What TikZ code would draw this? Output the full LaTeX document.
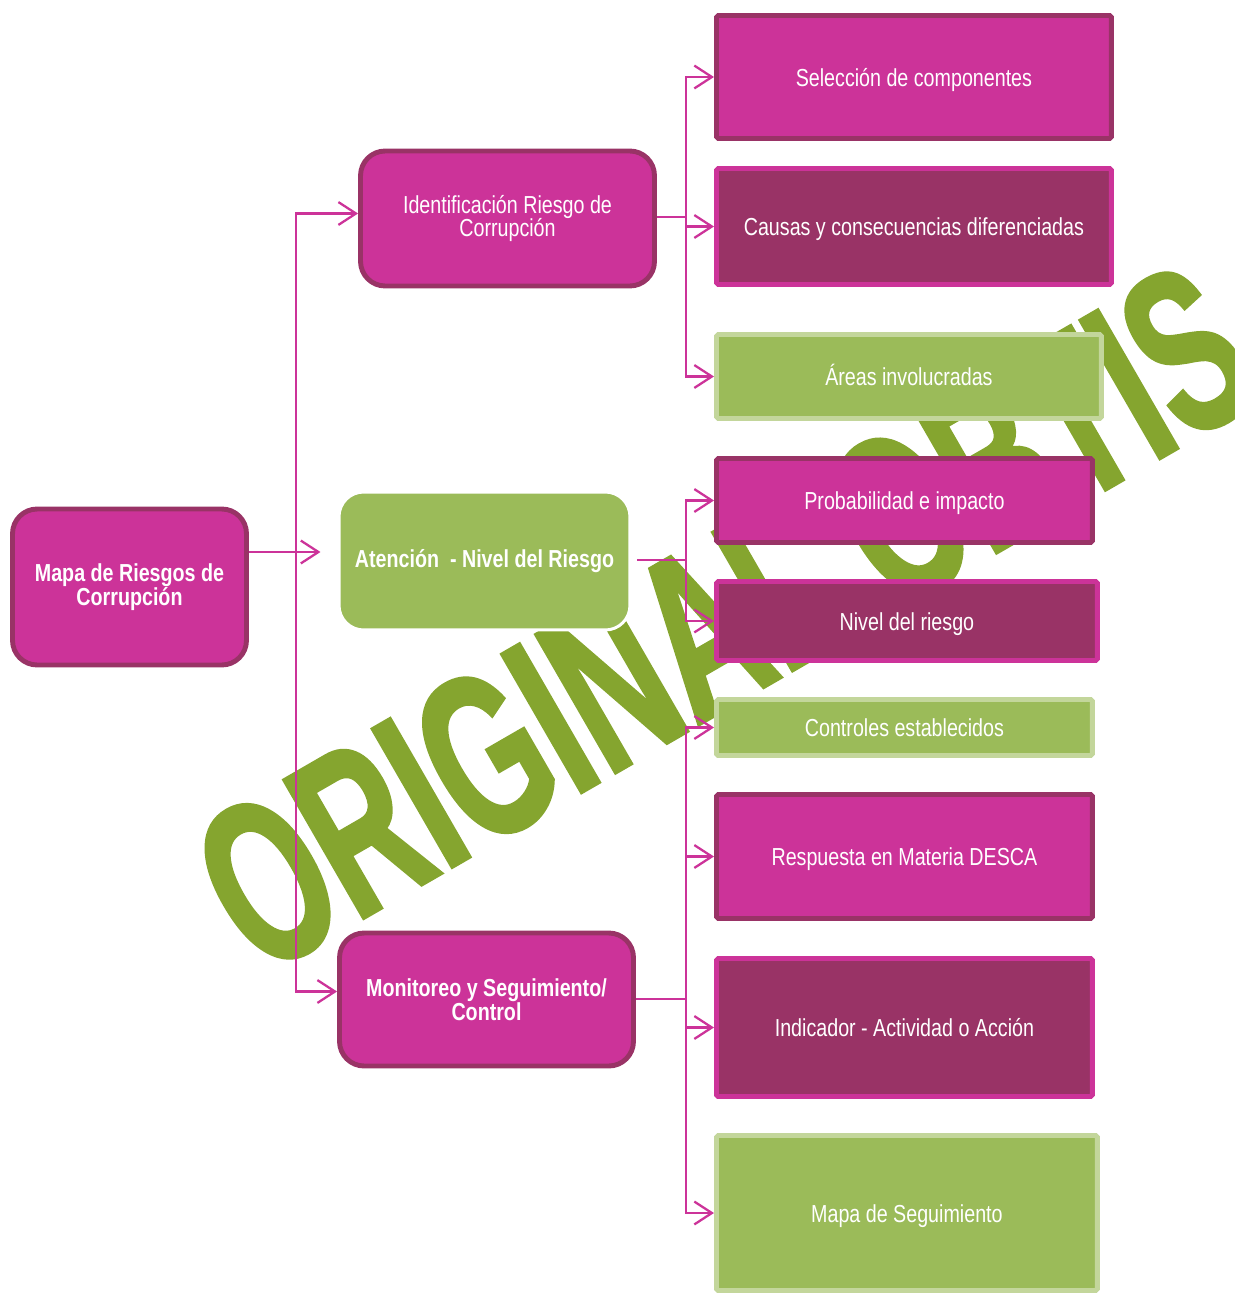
\documentclass[tikz,border=0pt]{standalone}
\usepackage{fontspec}
\setmainfont{Liberation Sans}[FakeStretch=0.8]
\newfontfamily\marcafont{Liberation Sans}[FakeStretch=0.61, FakeBold=1.5]
\usetikzlibrary{arrows.meta,calc}
\definecolor{rosa}{HTML}{CC3399}
\definecolor{vino}{HTML}{993366}
\definecolor{verde}{HTML}{9BBB59}
\definecolor{verdeclaro}{HTML}{C3D69B}
\definecolor{oliva}{HTML}{85A52F}

\begin{document}
\begin{tikzpicture}[x=0.02cm, y=-0.02cm,
  nivel/.style={rounded corners=14pt, line width=2.8pt, text=white, align=center,
    font=\fontsize{14}{13.5}\selectfont, inner sep=0pt},
  hoja/.style={rounded corners=1pt, line width=2.8pt, text=white, align=center,
    font=\fontsize{14}{13.5}\selectfont, inner sep=0pt, anchor=west,
    text height=11.5pt, text depth=1pt},
  fucsia/.style={fill=rosa, draw=vino},
  morado/.style={fill=vino, draw=rosa},
  pasto/.style={fill=verde, draw=verdeclaro},
  link/.style={draw=rosa, line width=1.3pt, -{Straight Barb[length=10pt,width=13pt]}}]
 \useasboundingbox (0,0) rectangle (1234,1294);
 \node[rotate=30, text=oliva, inner sep=0pt,
   font=\marcafont\bfseries\fontsize{132}{132}\selectfont] (marca) at (724,618) {ORIGINAL OBTIS};

 \node[nivel, fucsia, font=\bfseries\fontsize{14}{13.5}\selectfont,
   minimum width=4.68cm, minimum height=3.12cm] (mapa) at (129.5,587) {Mapa de Riesgos de\\Corrupción};
 \node[nivel, fucsia, minimum width=5.88cm, minimum height=2.7cm] (ident) at (507.5,218.5) {Identificación Riesgo de\\Corrupción};
 \node[nivel, fill=verde, draw=white, line width=1.7pt, font=\bfseries\fontsize{14}{13.5}\selectfont,
   minimum width=5.82cm, minimum height=2.76cm] (aten) at (484.5,561) {Atención~~- Nivel del Riesgo};
 \node[nivel, fucsia, font=\bfseries\fontsize{14}{13.5}\selectfont,
   minimum width=5.88cm, minimum height=2.66cm] (moni) at (486.5,999.5) {Monitoreo y Seguimiento/\\Control};

 \node[hoja, fucsia, minimum width=7.9cm, minimum height=2.46cm] (sel) at (714,77) {Selección de componentes};
 \node[hoja, morado, minimum width=7.9cm, minimum height=2.32cm] (cau) at (714,226.5) {Causas y consecuencias diferenciadas};
 \node[hoja, pasto, minimum width=7.7cm, minimum height=1.68cm] (are) at (714,376.5) {Áreas involucradas};
 \node[hoja, fucsia, minimum width=7.52cm, minimum height=1.68cm] (pro) at (714,500.5) {Probabilidad e impacto};
 \node[hoja, morado, minimum width=7.62cm, minimum height=1.58cm] (niv) at (714,621) {Nivel del riesgo};
 \node[hoja, pasto, minimum width=7.52cm, minimum height=1.12cm] (con) at (714,727.5) {Controles establecidos};
 \node[hoja, fucsia, minimum width=7.52cm, minimum height=2.48cm] (res) at (714,856.5) {Respuesta en Materia DESCA};
 \node[hoja, morado, minimum width=7.52cm, minimum height=2.76cm] (ind) at (714,1027.5) {Indicador - Actividad o Acción};
 \node[hoja, pasto, minimum width=7.62cm, minimum height=3.1cm] (seg) at (714,1213) {Mapa de Seguimiento};

 \coordinate (ja) at (296,552);
 \coordinate (jb) at (686,217);
 \coordinate (jc) at (686,560);
 \coordinate (jd) at (686,999);
 \draw[link, shorten >=9.7pt] (mapa.east |- ja) -- (aten.west |- ja);
 \draw[link] (ja) |- ($(ident.west)+(0,-5)$);
 \draw[link] (ja) |- ($(moni.west)+(0,-8)$);
 \foreach \t in {sel,cau,are}
   \draw[link] (ident.east |- jb) -- (jb) |- (\t.west);
 \foreach \t in {pro,niv}
   \draw[link] ($(aten.east |- jc)+(6,0)$) -- (jc) |- (\t.west);
 \foreach \t in {con,res,ind,seg}
   \draw[link] (moni.east |- jd) -- (jd) |- (\t.west);
\end{tikzpicture}
\end{document}
